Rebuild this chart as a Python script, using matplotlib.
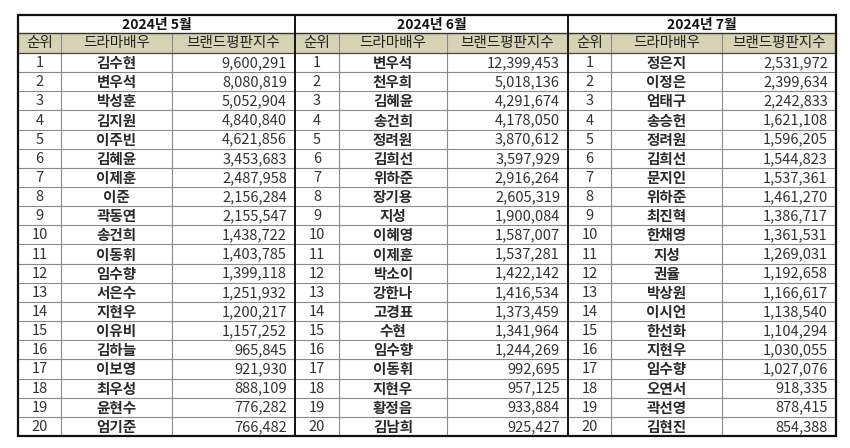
import matplotlib
matplotlib.use("Agg")
import matplotlib.pyplot as plt
from matplotlib.patches import Rectangle

plt.rcParams["font.family"] = ["Noto Sans CJK KR", "DejaVu Sans"]

# Data.
months = ["2024년 5월", "2024년 6월", "2024년 7월"]
headers = ["순위", "드라마배우", "브랜드평판지수"]
ranks = list(range(1, 21))

names_may = ["김수현", "변우석", "박성훈", "김지원", "이주빈", "김혜윤", "이제훈", "이준", "곽동연", "송건희",
             "이동휘", "임수향", "서은수", "지현우", "이유비", "김하늘", "이보영", "최우성", "윤현수", "엄기준"]
scores_may = [9600291, 8080819, 5052904, 4840840, 4621856, 3453683, 2487958, 2156284, 2155547, 1438722,
              1403785, 1399118, 1251932, 1200217, 1157252, 965845, 921930, 888109, 776282, 766482]

names_jun = ["변우석", "천우희", "김혜윤", "송건희", "정려원", "김희선", "위하준", "장기용", "지성", "이혜영",
             "이제훈", "박소이", "강한나", "고경표", "수현", "임수향", "이동휘", "지현우", "황정음", "김남희"]
scores_jun = [12399453, 5018136, 4291674, 4178050, 3870612, 3597929, 2916264, 2605319, 1900084, 1587007,
              1537281, 1422142, 1416534, 1373459, 1341964, 1244269, 992695, 957125, 933884, 925427]

names_jul = ["정은지", "이정은", "엄태구", "송승헌", "정려원", "김희선", "문지인", "위하준", "최진혁", "한채영",
             "지성", "권율", "박상원", "이시언", "한선화", "지현우", "임수향", "오연서", "곽선영", "김현진"]
scores_jul = [2531972, 2399634, 2242833, 1621108, 1596205, 1544823, 1537361, 1461270, 1386717, 1361531,
              1269031, 1192658, 1166617, 1138540, 1104294, 1030055, 1027076, 918335, 878415, 854388]

blocks = [(names_may, scores_may), (names_jun, scores_jun), (names_jul, scores_jul)]

# Layout in pixels.
block_cols = [(18, 61, 172, 295), (295, 339, 447, 568), (568, 611, 722, 836)]
top = 15
title_bottom = 33
header_bottom = 53
bottom = 436
row_h = (bottom - header_bottom) / len(ranks)

header_fill = "#d8d2b4"
grid_col = "#8a8a8a"
text_col = "#333333"

fig = plt.figure(figsize=(8.5, 4.48), dpi=100)
ax = fig.add_axes([0, 0, 1, 1])
ax.set_xlim(0, 850)
ax.set_ylim(448, 0)
ax.axis("off")

for (x0, x1, x2, x3), month, (names, scores) in zip(block_cols, months, blocks):
    # Header fill.
    ax.add_patch(Rectangle((x0, title_bottom), x3 - x0, header_bottom - title_bottom,
                           facecolor=header_fill, edgecolor="none", zorder=1))
    # Title.
    ax.text((x0 + x3) / 2, (top + title_bottom) / 2 + 0.5, month, ha="center", va="center",
            fontsize=10, fontweight="bold", color="#111111")
    # Column headers.
    for (a, b), h in zip([(x0, x1), (x1, x2), (x2, x3)], headers):
        ax.text((a + b) / 2, (title_bottom + header_bottom) / 2 + 0.5, h, ha="center", va="center",
                fontsize=10.5, color="#222222")
    # Rows.
    for i, (r, n, s) in enumerate(zip(ranks, names, scores)):
        yc = header_bottom + (i + 0.5) * row_h + 0.5
        ax.text((x0 + x1) / 2, yc, str(r), ha="center", va="center", fontsize=10.5, color=text_col)
        ax.text((x1 + x2) / 2, yc, n, ha="center", va="center", fontsize=10.5,
                fontweight="bold", color="#2a2a2a")
        ax.text(x3 - 8, yc, f"{s:,}", ha="right", va="center", fontsize=10.5, color=text_col)
        if i > 0:
            y = header_bottom + i * row_h
            ax.plot([x0, x3], [y, y], color=grid_col, lw=0.8, zorder=2)
    # Inner vertical lines.
    for x in (x1, x2):
        ax.plot([x, x], [title_bottom, bottom], color=grid_col, lw=0.8, zorder=2)
    # Header borders.
    ax.plot([x0, x3], [title_bottom, title_bottom], color="#333333", lw=1.0, zorder=3)
    ax.plot([x0, x3], [header_bottom, header_bottom], color="#444444", lw=0.9, zorder=3)
    # Block divider.
    ax.plot([x3, x3], [top, bottom], color="#111111", lw=1.4, zorder=4)

# Outer border.
ax.add_patch(Rectangle((18, top), 836 - 18, bottom - top, facecolor="none",
                       edgecolor="#111111", lw=1.6, zorder=5))

fig.savefig("out.png", dpi=100, facecolor="white")
